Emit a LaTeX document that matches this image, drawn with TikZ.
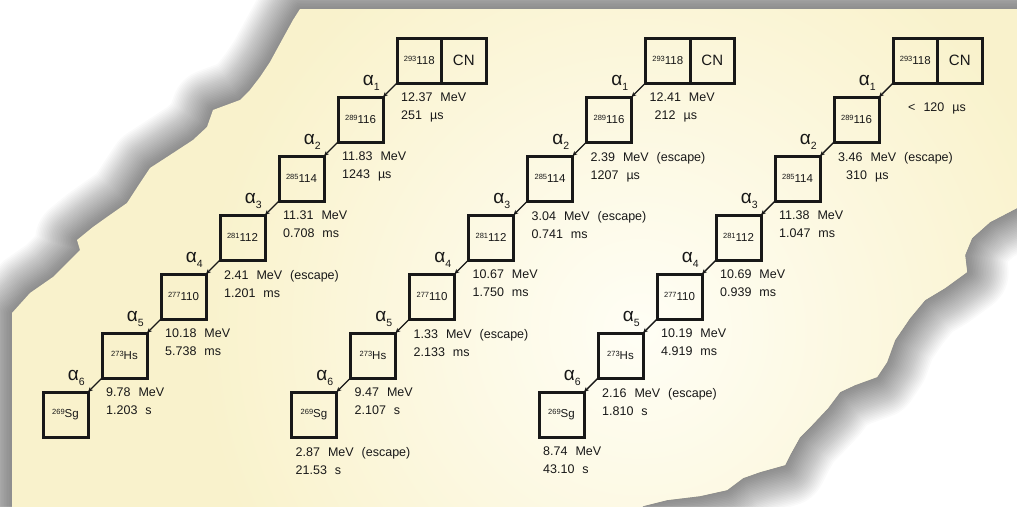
\documentclass[tikz,border=0pt]{standalone}
\usepackage{fontspec}
\setmainfont{Liberation Sans}
\usetikzlibrary{calc,arrows.meta}
\definecolor{papercream}{RGB}{249,242,204}
\definecolor{paperlight}{RGB}{255,254,245}
\definecolor{ink}{RGB}{24,24,24}
\newcommand{\nuc}[2]{\raisebox{3.5pt}{\fontsize{7.5}{7.5}\selectfont #1}#2}
\newcommand{\gap}{\hspace{8pt}}
\tikzset{
 nbox/.style={draw=ink, line width=3pt, minimum width=45pt, minimum height=45pt, inner sep=0pt, outer sep=0pt, font=\fontsize{11.5}{12}\selectfont, text=ink},
 halfbox/.style={nbox, minimum width=44.5pt},
 cnbox/.style={nbox, minimum width=44.5pt, font=\fontsize{15}{15}\selectfont},
 conn/.style={draw=ink, line width=1.4pt, -{Stealth[length=5pt,width=4.5pt]}},
 alab/.style={inner sep=0pt, anchor=base east, text=ink, font=\fontsize{19}{19}\selectfont},
 info/.style={inner sep=0pt, anchor=north west, align=left, text=ink, font=\fontsize{12.5}{18}\selectfont},
}
\def\paperpath{(300,9) -- (1030,9) -- (1030,205) -- (1017,208) -- (990,222) -- (972,238) -- (965,255) -- (967,272) -- (945,288) -- (925,300) -- (910,318) -- (895,340) -- (887,362) -- (877,377) -- (855,385) -- (840,392) -- (828,408) -- (812,425) -- (800,437) -- (790,455) -- (785,465) -- (760,472) -- (743,478) -- (727,490) -- (700,496) -- (667,500) -- (643,506) -- (630,520) -- (12,520) -- (12,313) -- (30,293) -- (53,277) -- (68,262) -- (80,250) -- (77,240) -- (93,227) -- (107,217) -- (127,203) -- (140,183) -- (150,168) -- (167,157) -- (193,140) -- (207,127) -- (213,110) -- (240,100) -- (250,90) -- (260,77) -- (270,62) -- (282,40) -- (293,20) -- cycle}
\newcommand{\mkchain}[2]{%
 \node[halfbox] (#1t) at ({#2+22.25},60.5) {\nuc{293}{118}};
 \node[cnbox,anchor=west] (#1cn) at (#1t.east) {CN};
 \node[nbox] (#11) at ({#2-59+22.5},{38+59+22.5}) {\nuc{289}{116}};
 \node[nbox] (#12) at ({#2-118+22.5},{38+118+22.5}) {\nuc{285}{114}};
 \node[nbox] (#13) at ({#2-177+22.5},{38+177+22.5}) {\nuc{281}{112}};
 \node[nbox] (#14) at ({#2-236+22.5},{38+236+22.5}) {\nuc{277}{110}};
 \node[nbox] (#15) at ({#2-295+22.5},{38+295+22.5}) {\nuc{273}{Hs}};
 \node[nbox] (#16) at ({#2-354+22.5},{38+354+22.5}) {\nuc{269}{Sg}};
 \foreach \p/\k in {t/1,1/2,2/3,3/4,4/5,5/6}{
   \draw[conn] (#1\p.south west) -- (#1\k.north east);
   \node[alab] (#1a\k) at ($(#1\p.south west)+(-17,2)$) {α\raisebox{-5pt}{\fontsize{10.5}{10.5}\selectfont\k}};
 }
}
\begin{document}
\begin{tikzpicture}[x=1pt,y=-1pt]
\useasboundingbox (0,0) rectangle (1017,506);
\fill[white] (0,0) rectangle (1017,506);
% paper shadow
\foreach \i in {1,...,26}{
  \draw[line width=3.2*\i pt, black, opacity=0.021, line join=round] \paperpath;
}
\fill[papercream] \paperpath;
\begin{scope}
 \clip \paperpath;
 \shade[inner color=paperlight, outer color=papercream] (640,330) circle (440);
\end{scope}
% chains
\mkchain{A}{397}
\mkchain{B}{645.5}
\mkchain{C}{893}
% chain A texts
\node[info] (At-i) at ($(At.south west)+(4,10)$) {12.37\gap MeV\\251\gap µs};
\node[info] (A1-i) at ($(A1.south west)+(4,10)$) {11.83\gap MeV\\1243\gap µs};
\node[info] (A2-i) at ($(A2.south west)+(4,10)$) {11.31\gap MeV\\0.708\gap ms};
\node[info] (A3-i) at ($(A3.south west)+(4,10)$) {2.41\gap MeV\gap (escape)\\1.201\gap ms};
\node[info] (A4-i) at ($(A4.south west)+(4,10)$) {10.18\gap MeV\\5.738\gap ms};
\node[info] (A5-i) at ($(A5.south west)+(4,10)$) {9.78\gap MeV\\1.203\gap s};
% chain B texts
\node[info] (Bt-i) at ($(Bt.south west)+(4,10)$) {12.41\gap MeV\\\hspace{5pt}212\gap µs};
\node[info] (B1-i) at ($(B1.south west)+(4,10)$) {2.39\gap MeV\gap (escape)\\1207\gap µs};
\node[info] (B2-i) at ($(B2.south west)+(4,10)$) {3.04\gap MeV\gap (escape)\\0.741\gap ms};
\node[info] (B3-i) at ($(B3.south west)+(4,10)$) {10.67\gap MeV\\1.750\gap ms};
\node[info] (B4-i) at ($(B4.south west)+(4,10)$) {1.33\gap MeV\gap (escape)\\2.133\gap ms};
\node[info] (B5-i) at ($(B5.south west)+(4,10)$) {9.47\gap MeV\\2.107\gap s};
\node[info] (B6-i) at ($(B6.south west)+(4,10)$) {2.87\gap MeV\gap (escape)\\21.53\gap s};
% chain C texts
\node[info] (Ct-i) at ($(Ct.south west)+(4,10)$) {\mbox{}\\\hspace{11pt}<\gap 120\gap µs};
\node[info] (C1-i) at ($(C1.south west)+(4,10)$) {3.46\gap MeV\gap (escape)\\\hspace{8pt}310\gap µs};
\node[info] (C2-i) at ($(C2.south west)+(4,10)$) {11.38\gap MeV\\1.047\gap ms};
\node[info] (C3-i) at ($(C3.south west)+(4,10)$) {10.69\gap MeV\\0.939\gap ms};
\node[info] (C4-i) at ($(C4.south west)+(4,10)$) {10.19\gap MeV\\4.919\gap ms};
\node[info] (C5-i) at ($(C5.south west)+(4,10)$) {2.16\gap MeV\gap (escape)\\1.810\gap s};
\node[info] (C6-i) at ($(C6.south west)+(4,10)$) {8.74\gap MeV\\43.10\gap s};
\end{tikzpicture}
\end{document}
